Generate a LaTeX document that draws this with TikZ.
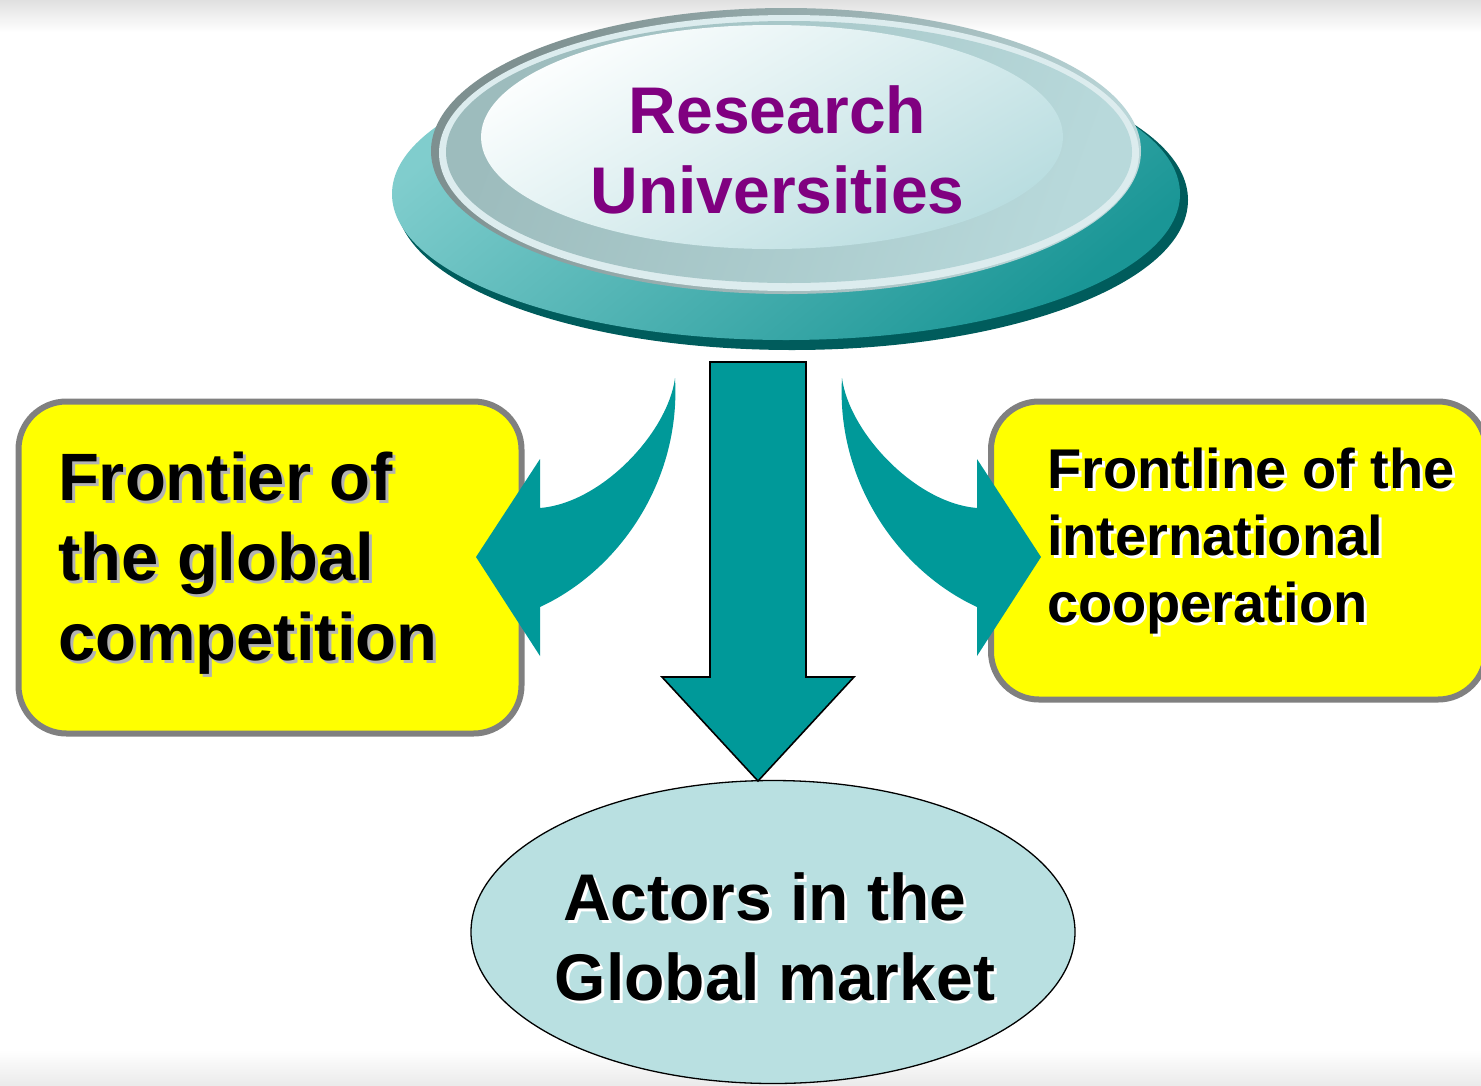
\documentclass[tikz,border=0pt]{standalone}
\usepackage{fontspec}
\setmainfont{Liberation Sans}
\usetikzlibrary{shapes.geometric}
\definecolor{arrteal}{RGB}{0,153,153}
\definecolor{rimdark}{RGB}{0,92,92}
\definecolor{baselight}{RGB}{128,205,205}
\definecolor{basedark}{RGB}{26,150,150}
\definecolor{lensedgeL}{RGB}{126,144,144}
\definecolor{lensedgeR}{RGB}{186,214,216}
\definecolor{lensring}{RGB}{220,236,238}
\definecolor{lensmidL}{RGB}{157,188,189}
\definecolor{lensmidR}{RGB}{184,217,219}
\definecolor{lensinA}{RGB}{252,254,254}
\definecolor{lensinB}{RGB}{185,221,224}
\definecolor{boxyellow}{RGB}{255,255,0}
\definecolor{boxgray}{RGB}{128,128,128}
\definecolor{actorfill}{RGB}{185,224,225}
\definecolor{ruPurple}{RGB}{128,0,128}
\definecolor{shadowgray}{RGB}{178,178,178}
\tikzset{
  ell/.style={ellipse, inner sep=0pt, outer sep=0pt},
  yellowbox/.style={rectangle, rounded corners=48pt, draw=boxgray, line width=6pt, fill=boxyellow, inner sep=0pt},
  bigtxt/.style={inner sep=0pt, outer sep=0pt, font=\bfseries\fontsize{66}{80}\selectfont},
  lefttxt/.style={inner sep=0pt, outer sep=0pt, font=\bfseries\fontsize{67}{80}\selectfont},
  midtxt/.style={inner sep=0pt, outer sep=0pt, font=\bfseries\fontsize{56}{67}\selectfont},
  blockarrow/.style={fill=arrteal},
}
\begin{document}
\begin{tikzpicture}[x=1pt,y=-1pt]
\clip (0,0) rectangle (1481,1085);
\fill[white] (0,0) rectangle (1481,1085);
% background bands
\fill[top color=black!12, bottom color=white] (0,0) rectangle (1481,32);
\fill[top color=white, bottom color=black!8] (0,1050) rectangle (1481,1085);

% ---------- top disc ----------
\node[ell, fill=rimdark, minimum width=792pt, minimum height=300pt] (rim) at (792,200) {};
\node[ell, top color=baselight, bottom color=basedark, shading angle=40, minimum width=788pt, minimum height=292pt] (base) at (786,194) {};
\node[ell, left color=lensedgeL, right color=lensedgeR, shading angle=60, minimum width=710pt, minimum height=286pt] (lensA) at (786,151) {};
\node[ell, fill=lensring, minimum width=700pt, minimum height=276pt] (lensB) at (789,153) {};
\node[ell, left color=lensmidL, right color=lensmidR, shading angle=70, minimum width=686pt, minimum height=262pt] (lensC) at (789,152) {};
\node[ell, top color=lensinA, bottom color=lensinB, shading angle=30, minimum width=582pt, minimum height=224pt] (lensD) at (772,137) {};
\node[bigtxt, text=ruPurple, anchor=base] (ru1) at (777.5,133) {Research};
\node[bigtxt, text=ruPurple, anchor=base] (ru2) at (777.5,213) {Universities};

% ---------- yellow boxes ----------
\node[yellowbox, minimum width=503pt, minimum height=332pt] (lbox) at (270,567.5) {};
\node[yellowbox, minimum width=495pt, minimum height=298pt] (rbox) at (1238.5,550.5) {};

% left box text (gray shadow)
\foreach \t/\yy [count=\i] in {Frontier of/500, the global/580, competition/660}{
  \node[lefttxt, text=shadowgray, anchor=base west] (lsh\i) at (61,\yy+3) {\t};
  \node[lefttxt, text=black, anchor=base west] (lt\i) at (58,\yy) {\t};
}
% right box text (white shadow)
\foreach \t/\yy [count=\i] in {Frontline of the/488, international/555, cooperation/622}{
  \node[midtxt, text=white, anchor=base west] (rsh\i) at (1050,\yy+3) {\t};
  \node[midtxt, text=black, anchor=base west] (rt\i) at (1047,\yy) {\t};
}

% ---------- arrows ----------
\coordinate (lTail) at (675,378);
\coordinate (lTip) at (476,557);
\coordinate (rTail) at (842,378);
\coordinate (rTip) at (1041,557);
\fill[blockarrow] (lTail) .. controls (668,432) and (602,503) .. (540,508)
  -- (540,459) -- (lTip) -- (540,656) -- (540,607)
  .. controls (620,570) and (681,480) .. (lTail) -- cycle;
\fill[blockarrow] (rTail) .. controls (849,432) and (915,503) .. (977,508)
  -- (977,459) -- (rTip) -- (977,656) -- (977,607)
  .. controls (897,570) and (836,480) .. (rTail) -- cycle;

% ---------- bottom ellipse ----------
\node[ell, draw=black, line width=1.3pt, fill=actorfill, minimum width=604pt, minimum height=303pt] (actors) at (773,932) {};
\node[bigtxt, text=white, anchor=base] (ash1) at (768,923) {Actors in the};
\node[bigtxt, text=black, anchor=base] (at1) at (765,920) {Actors in the};
\node[bigtxt, text=white, anchor=base] (ash2) at (778,1003) {Global market};
\node[bigtxt, text=black, anchor=base] (at2) at (775,1000) {Global market};

% down arrow, tip on the bottom ellipse
\coordinate (dTip) at (758,781);
\draw[blockarrow, draw=black, line width=1.6pt, line join=miter]
  (710,362) -- (806,362) -- (806,677) -- (854,677) -- (dTip) -- (662,677) -- (710,677) -- cycle;
\end{tikzpicture}
\end{document}
